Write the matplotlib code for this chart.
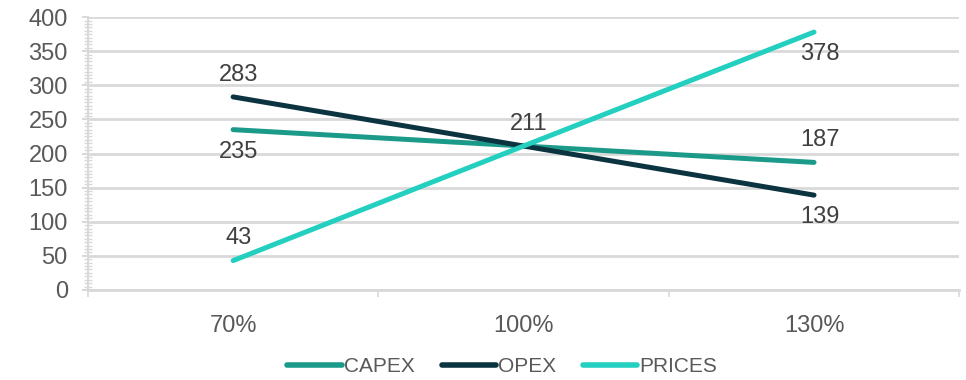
import matplotlib
matplotlib.use("Agg")
import matplotlib.pyplot as plt
from matplotlib.ticker import MultipleLocator, FixedLocator

categories = ["70%", "100%", "130%"]
capex = [235, 211, 187]
opex = [283, 211, 139]
prices = [43, 211, 378]

# label placement per point: +1 above, -1 below, 0 none
capex_pos = [-1, 0, 1]
opex_pos = [1, 1, -1]
prices_pos = [1, 0, -1]

colors = {"CAPEX": "#1b9a8a", "OPEX": "#0b3340", "PRICES": "#23cfbf"}
grid_c = "#d9d9d9"
text_c = "#595959"

plt.rcParams['font.family'] = ['Liberation Sans', 'DejaVu Sans']

fig = plt.figure(figsize=(9.66, 3.8), dpi=100)
ax = fig.add_axes([0.091, 0.237, 0.902, 0.718])

x = list(range(len(categories)))
series = [("CAPEX", capex, capex_pos), ("OPEX", opex, opex_pos), ("PRICES", prices, prices_pos)]
for name, vals, pos in series:
    ax.plot(x, vals, color=colors[name], lw=3.6, solid_capstyle="round", label=name, zorder=3)

for name, vals, pos in series:
    for i, v in enumerate(vals):
        if pos[i] == 0:
            continue
        ax.annotate(str(v), (i, v), xytext=(4, 16 * pos[i]), textcoords="offset points",
                    ha="center", va="center", fontsize=17, color="#404040", zorder=4)

ax.set_xlim(-0.5, 2.5)
ax.set_ylim(0, 400)
ax.yaxis.set_major_locator(MultipleLocator(50))
ax.yaxis.set_minor_locator(MultipleLocator(5))
ax.set_xticks(x)
ax.set_xticklabels(categories)
ax.xaxis.set_minor_locator(FixedLocator([-0.5, 0.5, 1.5, 2.5]))
ax.tick_params(axis="x", which="major", length=0, pad=18, labelsize=17, labelcolor=text_c)
ax.tick_params(axis="x", which="minor", length=5, width=1.2, color=grid_c, direction="out")
ax.tick_params(axis="y", which="major", length=4.5, width=1.5, color=grid_c, labelsize=17, labelcolor=text_c, pad=10)
ax.tick_params(axis="y", which="minor", length=6, width=1, color=grid_c, direction="inout")

ax.grid(axis="y", which="major", color=grid_c, lw=2, zorder=0)
for s in ["top", "right"]:
    ax.spines[s].set_visible(False)
ax.spines["left"].set_color(grid_c)
ax.spines["left"].set_linewidth(1.5)
ax.spines["bottom"].set_color(grid_c)
ax.spines["bottom"].set_linewidth(2)

leg = fig.legend(loc="lower center", bbox_to_anchor=(0.52, -0.04), ncol=3, frameon=False,
                 fontsize=15, handlelength=2.6, handletextpad=0.1, columnspacing=1.3)
for line in leg.get_lines():
    line.set_linewidth(4)
    line.set_solid_capstyle("round")
for t in leg.get_texts():
    t.set_color(text_c)

fig.savefig("out.png", dpi=100)
